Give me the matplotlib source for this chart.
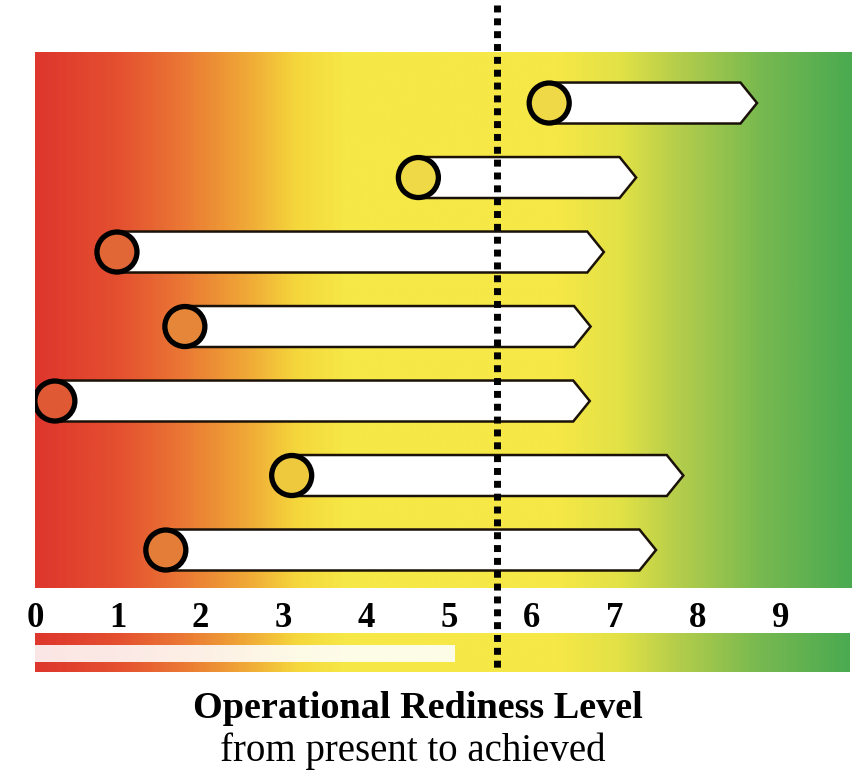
import numpy as np
import matplotlib
matplotlib.use("Agg")
import matplotlib.pyplot as plt
from matplotlib.colors import LinearSegmentedColormap
from matplotlib.patches import Polygon, Rectangle

# ----- Data (readiness level: present -> achieved) -----
rows = [0, 1, 2, 3, 4, 5, 6]
present = [6.21, 4.63, 0.99, 1.81, 0.24, 3.10, 1.58]
achieved = [8.72, 7.26, 6.87, 6.71, 6.70, 7.83, 7.50]
target_level = 5.58
legend_level = 5.07
tick_values = [0, 1, 2, 3, 4, 5, 6, 7, 8, 9]
tick_labels = ["0", "1", "2", "3", "4", "5", "6", "7", "8", "9"]

# ----- Styling -----
W, H = 866, 774
x_max = 9.867
grad = LinearSegmentedColormap.from_list("orl", [
    (0.00, (222/255, 55/255, 45/255)),
    (0.10, (228/255, 80/255, 48/255)),
    (0.18, (234/255, 120/255, 52/255)),
    (0.26, (240/255, 170/255, 55/255)),
    (0.32, (245/255, 215/255, 60/255)),
    (0.38, (246/255, 232/255, 70/255)),
    (0.64, (246/255, 232/255, 70/255)),
    (0.72, (225/255, 225/255, 70/255)),
    (0.79, (180/255, 205/255, 75/255)),
    (0.89, (120/255, 185/255, 80/255)),
    (1.00, (75/255, 170/255, 80/255)),
])
serif = ["Liberation Serif", "DejaVu Serif"]

fig = plt.figure(figsize=(W / 100, H / 100), dpi=100)

# main panel
ax = fig.add_axes([35 / W, 1 - 588 / H, 817 / W, 536 / H])
ax.set_zorder(3)
y_top, y_bot = -0.685, 6.51
ax.imshow(np.linspace(0, 1, 600)[None, :], cmap=grad, aspect="auto",
          extent=(0, x_max, y_bot, y_top), zorder=0)
ax.set_xlim(0, x_max)
ax.set_ylim(y_bot, y_top)

h = 0.55     # bar thickness (row units)
d = 0.2      # arrow tip depth
for y, p, a in zip(rows, present, achieved):
    pts = [(p, y - h / 2), (a - d, y - h / 2), (a, y),
           (a - d, y + h / 2), (p, y + h / 2)]
    ax.add_patch(Polygon(pts, closed=True, facecolor="white",
                         edgecolor="#1a1208", lw=1.8, zorder=2))

fill = [grad(p / x_max) for p in present]
fill = [tuple(0.75 * np.array(c[:3]) + 0.25 * np.array([0.85, 0.68, 0.28])) for c in fill]
ax.scatter(present, rows, s=830, facecolor=fill, edgecolor="black",
           linewidth=3.8, zorder=4)

# dotted target line
ax.plot([target_level, target_level], [-1.315, 7.64], color="black", lw=5,
        linestyle=(0, (1.0, 0.85)), clip_on=False, zorder=5)

ax.set_xticks(tick_values)
ax.set_xticklabels(tick_labels, fontfamily=serif, fontweight="bold", fontsize=25)
ax.tick_params(axis="x", length=0, pad=10)
ax.set_yticks([])
for s in ax.spines.values():
    s.set_visible(False)

# legend bar
lax = fig.add_axes([35 / W, 1 - 672 / H, 815 / W, 39 / H])
lax.imshow(np.linspace(0, 1, 600)[None, :], cmap=grad, aspect="auto",
           extent=(0, 815 / 82.8, 0, 1))
lax.add_patch(Rectangle((0, 0.256), legend_level, 0.434, facecolor="white",
                        alpha=0.88, edgecolor="none"))
lax.set_xlim(0, 815 / 82.8)
lax.set_ylim(0, 1)
lax.axis("off")

fig.text(418 / W, 1 - 709 / H, "Operational Rediness Level", ha="center", va="center",
         fontfamily=serif, fontweight="bold", fontsize=27.5)
fig.text(413 / W, 1 - 751 / H, "from present to achieved", ha="center", va="center",
         fontfamily=serif, fontsize=28)

fig.savefig("out.png", dpi=100)
